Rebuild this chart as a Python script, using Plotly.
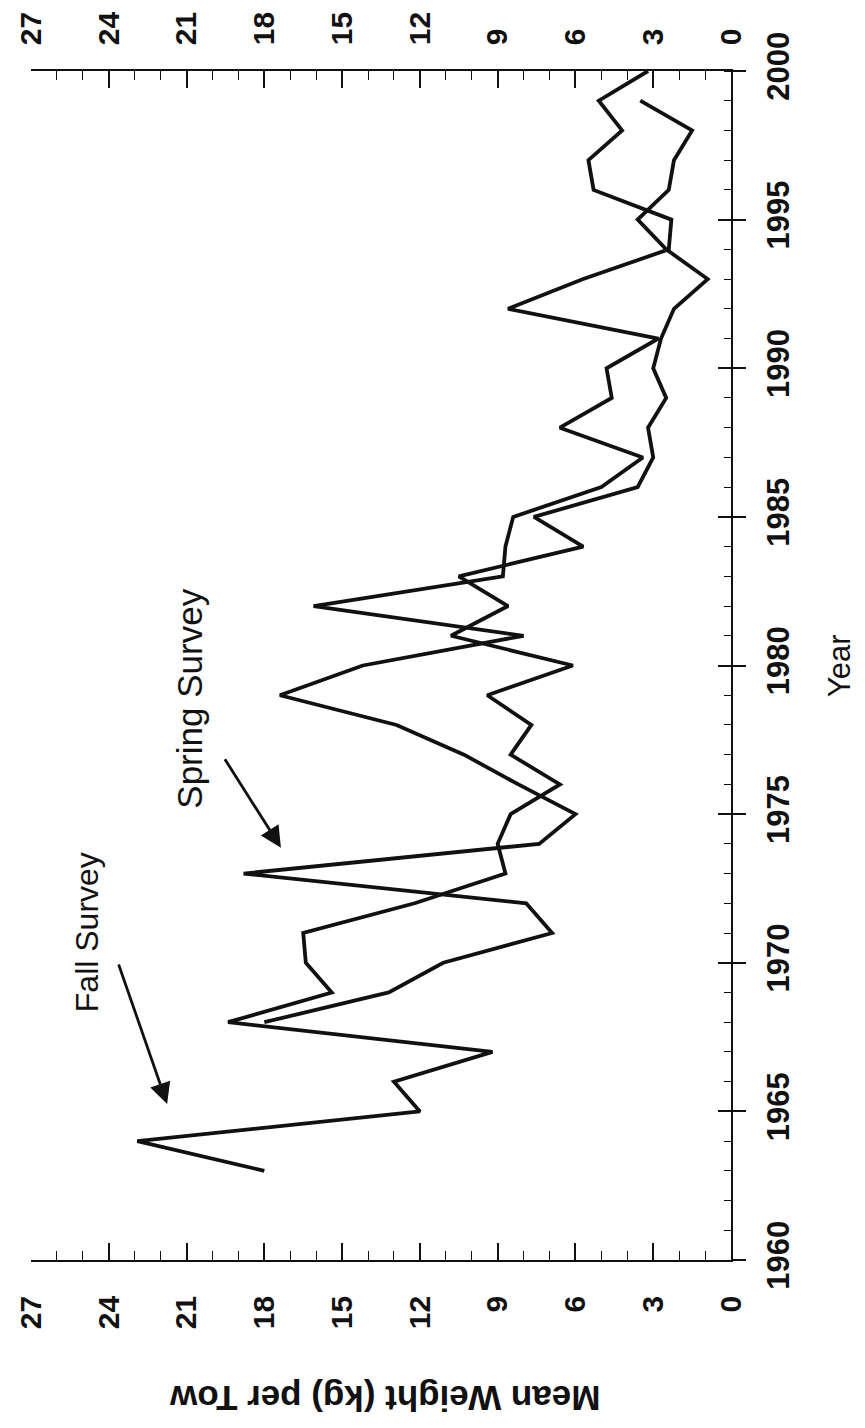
import plotly.graph_objects as go

# Mean weight (kg) per tow by survey year
fall_years = list(range(1963, 2000))
fall_weight = [18.0, 22.9, 12.0, 13.0, 9.2, 19.4, 15.4, 16.4, 16.5, 12.2,
               8.7, 9.0, 8.5, 6.6, 8.5, 7.7, 9.4, 6.1, 10.8, 8.6,
               10.5, 5.7, 7.6, 3.6, 3.0, 3.2, 2.5, 3.0, 2.7, 2.2,
               0.9, 2.5, 3.6, 2.4, 2.2, 1.5, 3.5]

spring_years = list(range(1968, 2001))
spring_weight = [18.0, 13.2, 11.1, 6.9, 7.9, 18.8, 7.4, 6.0, 8.2, 10.3,
                 12.9, 17.4, 14.2, 8.0, 16.1, 8.8, 8.7, 8.4, 5.0, 3.4,
                 6.6, 4.6, 4.8, 2.8, 8.6, 5.7, 2.4, 2.3, 5.3, 5.5,
                 4.2, 5.1, 3.2]

weight_ticks = list(range(0, 28, 3))
year_ticks = list(range(1960, 2001, 5))

FONT = "Liberation Sans, Arial, Helvetica, sans-serif"
INK = "#111111"

line_style = dict(color=INK, width=3.8)

fig = go.Figure()
fig.add_trace(go.Scatter(x=fall_weight, y=fall_years, mode="lines",
                         line=line_style, xaxis="x", yaxis="y",
                         showlegend=False, name="Fall Survey"))
fig.add_trace(go.Scatter(x=spring_weight, y=spring_years, mode="lines",
                         line=line_style, xaxis="x2", yaxis="y2",
                         showlegend=False, name="Spring Survey"))

weight_axis = dict(
    range=[27, 0],
    tickmode="array", tickvals=weight_ticks,
    ticks="inside", ticklen=17, tickwidth=1.5, tickcolor=INK,
    minor=dict(ticks="inside", ticklen=9, tickwidth=1.3, dtick=1, tick0=0,
               tickcolor=INK),
    showline=True, linewidth=1.6, linecolor=INK,
    tickangle=-90,
    tickfont=dict(family=FONT, size=30, color=INK, weight="bold"),
    showgrid=False, zeroline=False,
)

year_axis = dict(
    range=[1960, 2000],
    tickmode="array", tickvals=year_ticks,
    showgrid=False, zeroline=False,
)

fig.update_layout(
    width=865, height=1428,
    margin=dict(l=31, r=134, t=63, b=168),
    paper_bgcolor="white", plot_bgcolor="white",
    xaxis=dict(weight_axis, side="bottom", anchor="y", ticklabelstandoff=22),
    xaxis2=dict(weight_axis, side="top", anchor="y2", overlaying="x",
                matches="x", ticklabelstandoff=18),
    yaxis=dict(year_axis, side="right", anchor="x",
               ticks="outside", ticklen=13, tickwidth=1.5, tickcolor=INK,
               minor=dict(ticks="inside", ticklen=7, tickwidth=1.3, dtick=1,
                          tick0=1960, tickcolor=INK),
               showline=True, linewidth=1.6, linecolor=INK,
               tickangle=-90, ticklabelstandoff=6,
               tickfont=dict(family=FONT, size=31, color=INK, weight="bold")),
    yaxis2=dict(year_axis, side="right", anchor="x2", overlaying="y",
                matches="y", ticks="inside", ticklen=13, tickwidth=1.5,
                tickcolor=INK, showticklabels=False, showline=False),
)

centered = dict(xref="paper", yref="paper", showarrow=False,
                xanchor="center", yanchor="middle")
annotations = [
    dict(centered, text="Year", x=1.156, y=0.4996, textangle=-90,
         font=dict(family=FONT, size=31, color=INK)),
    dict(centered, text="Mean Weight (kg) per Tow", x=0.506, y=-0.117,
         textangle=180,
         font=dict(family=FONT, size=35, color=INK, weight="bold")),
    dict(centered, text="Fall Survey", x=0.08, y=0.2757, textangle=-90,
         font=dict(family=FONT, size=32, color=INK)),
    dict(centered, text="Spring Survey", x=0.227, y=0.472, textangle=-90,
         font=dict(family=FONT, size=35, color=INK)),
    # arrows pointing at the two series
    dict(text="", xref="x", yref="y", x=21.75, y=1965.25,
         ax=-49, ay=-141, showarrow=True, arrowhead=2, arrowsize=1.5,
         arrowwidth=2.8, arrowcolor=INK),
    dict(text="", xref="x", yref="y", x=17.36, y=1973.87,
         ax=-57, ay=-90, showarrow=True, arrowhead=2, arrowsize=1.5,
         arrowwidth=2.8, arrowcolor=INK),
]
fig.update_layout(annotations=annotations)

fig.write_html("out.html")
